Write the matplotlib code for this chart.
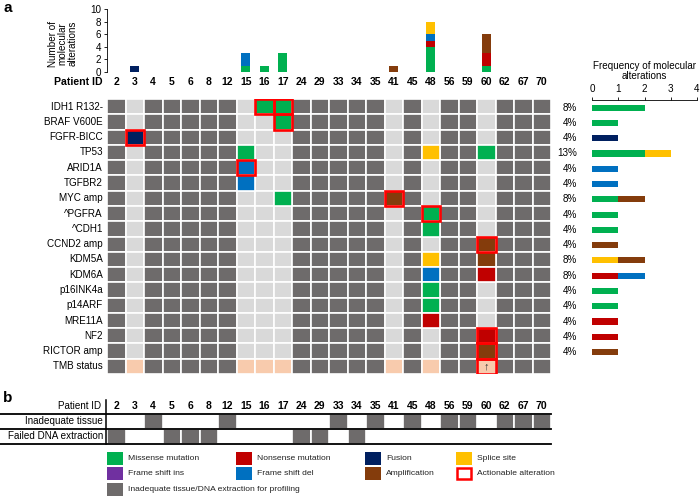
import matplotlib
matplotlib.use("Agg")
import matplotlib.pyplot as plt
from matplotlib.patches import Rectangle

plt.rcParams['font.family'] = ['Liberation Sans', 'DejaVu Sans']

# ---- data ----
patients = ['2', '3', '4', '5', '6', '8', '12', '15', '16', '17', '24', '29',
            '33', '34', '35', '41', '45', '48', '56', '59', '60', '62', '67', '70']
profiled = ['3', '15', '16', '17', '41', '48', '60']
genes = ['IDH1 R132-', 'BRAF V600E', 'FGFR-BICC', 'TP53', 'ARID1A', 'TGFBR2',
         'MYC amp', '^PGFRA', '^CDH1', 'CCND2 amp', 'KDM5A', 'KDM6A',
         'p16INK4a', 'p14ARF', 'MRE11A', 'NF2', 'RICTOR amp', 'TMB status']
freq_labels = ['8%', '4%', '4%', '13%', '4%', '4%', '8%', '4%', '4%', '4%',
               '8%', '8%', '4%', '4%', '4%', '4%', '4%', '']

# (gene, patient, alteration type, actionable)
alterations = [
    ('IDH1 R132-', '16', 'missense', True),
    ('IDH1 R132-', '17', 'missense', True),
    ('BRAF V600E', '17', 'missense', True),
    ('FGFR-BICC', '3', 'fusion', True),
    ('TP53', '15', 'missense', False),
    ('TP53', '48', 'splice', False),
    ('TP53', '60', 'missense', False),
    ('ARID1A', '15', 'fs_del', True),
    ('TGFBR2', '15', 'fs_del', False),
    ('MYC amp', '17', 'missense', False),
    ('MYC amp', '41', 'amp', True),
    ('^PGFRA', '48', 'missense', True),
    ('^CDH1', '48', 'missense', False),
    ('CCND2 amp', '60', 'amp', True),
    ('KDM5A', '48', 'splice', False),
    ('KDM5A', '60', 'amp', False),
    ('KDM6A', '48', 'fs_del', False),
    ('KDM6A', '60', 'nonsense', False),
    ('p16INK4a', '48', 'missense', False),
    ('p14ARF', '48', 'missense', False),
    ('MRE11A', '48', 'nonsense', False),
    ('NF2', '60', 'nonsense', True),
    ('RICTOR amp', '60', 'amp', True),
]
tmb_high = ['60']
inadequate_tissue = ['4', '12', '33', '35', '45', '56', '59', '62', '67', '70']
failed_dna = ['2', '5', '6', '8', '24', '29', '34']

alt_order = ['missense', 'nonsense', 'fs_ins', 'fs_del', 'fusion', 'splice', 'amp']
alt_colors = {'missense': '#00b050', 'nonsense': '#c00000', 'fs_ins': '#7030a0',
              'fs_del': '#0070c0', 'fusion': '#002060', 'splice': '#ffc000',
              'amp': '#843c0c'}
DARK = '#6e6b6b'
LIGHT = '#d9d9d9'
PEACH = '#f8cbad'
ACT = '#ff0000'

legend_items = [
    ('Missense mutation', alt_colors['missense']),
    ('Frame shift ins', alt_colors['fs_ins']),
    ('Inadequate tissue/DNA extraction for profiling', DARK),
    ('Nonsense mutation', alt_colors['nonsense']),
    ('Frame shift del', alt_colors['fs_del']),
    ('Fusion', alt_colors['fusion']),
    ('Amplification', alt_colors['amp']),
    ('Splice site', alt_colors['splice']),
    ('Actionable alteration', None),
]

# ---- layout ----
W, H = 700, 497
fig = plt.figure(figsize=(W / 100, H / 100), dpi=100)


def px_axes(x0, y0, x1, y1):
    return fig.add_axes([x0 / W, 1 - y1 / H, (x1 - x0) / W, (y1 - y0) / H])


n = len(patients)
col = {p: j for j, p in enumerate(patients)}
row = {g: i for i, g in enumerate(genes)}
FS = 7.1
LAB_X = -0.72   # right edge of the row labels, in column units

# main oncoprint grid
ax = px_axes(107, 99, 551, 374)
ax.set_xlim(-0.5, n - 0.5)
ax.set_ylim(len(genes) - 0.5, -0.5)
ax.axis('off')
for i, g in enumerate(genes):
    for j, p in enumerate(patients):
        if p in profiled:
            fc = PEACH if g == 'TMB status' else LIGHT
        else:
            fc = DARK
        ax.add_patch(Rectangle((j - 0.5, i - 0.5), 1, 1, fc=fc, ec='white', lw=1.2))
    ax.text(LAB_X, i, g, ha='right', va='center', fontsize=FS, clip_on=False)
for g, p, t, act in alterations:
    i, j = row[g], col[p]
    ax.add_patch(Rectangle((j - 0.5, i - 0.5), 1, 1, fc=alt_colors[t], ec='white', lw=1.2))
for g, p, t, act in alterations:
    if act:
        ax.add_patch(Rectangle((col[p] - 0.5, row[g] - 0.5), 1, 1,
                               fill=False, ec=ACT, lw=1.9, zorder=5))
itmb = row['TMB status']
for p in tmb_high:
    ax.text(col[p], itmb, '\u2191', ha='center', va='center', fontsize=8, color='#333333')
    ax.add_patch(Rectangle((col[p] - 0.5, itmb - 0.5), 1, 1, fill=False, ec=ACT, lw=1.9, zorder=5))
for j, p in enumerate(patients):
    ax.text(j, -1.6, p, ha='center', va='center', fontsize=7.5, fontweight='bold', clip_on=False)
ax.text(LAB_X, -1.6, 'Patient ID', ha='right', va='center', fontsize=7.6,
        fontweight='bold', clip_on=False)

# number of alterations per patient
axt = px_axes(107, 9, 551, 72)
axt.set_xlim(-0.5, n - 0.5)
axt.set_ylim(0, 10)
for s in ['top', 'right', 'bottom']:
    axt.spines[s].set_visible(False)
axt.spines['left'].set_linewidth(0.6)
axt.set_xticks([])
axt.set_yticks(range(0, 11, 2))
axt.tick_params(axis='y', labelsize=FS, length=2.5, width=0.6, pad=1.5)
bottom = [0] * n
for t in alt_order:
    h = [0] * n
    for g, p, tt, act in alterations:
        if tt == t:
            h[col[p]] += 1
    axt.bar(range(n), h, width=0.5, bottom=bottom, color=alt_colors[t], linewidth=0)
    bottom = [b + v for b, v in zip(bottom, h)]
axt.text(-0.1, 0.45, 'Number of\nmolecular\nalterations', transform=axt.transAxes,
         rotation=90, ha='center', va='center', fontsize=FS, linespacing=0.95)

# frequency of alterations per gene
axf = px_axes(592, 100, 697, 375)
axf.set_xlim(0, 4)
axf.set_ylim(len(genes) - 0.5, -0.5)
for s in ['bottom', 'right', 'left']:
    axf.spines[s].set_visible(False)
axf.spines['top'].set_linewidth(0.6)
axf.xaxis.tick_top()
axf.set_xticks(range(5))
axf.set_yticks([])
axf.tick_params(axis='x', labelsize=FS, length=2.5, width=0.6, pad=2)
left = [0] * len(genes)
for t in alt_order:
    w = [0] * len(genes)
    for g, p, tt, act in alterations:
        if tt == t:
            w[row[g]] += 1
    axf.barh(range(len(genes)), w, height=0.4, left=left, color=alt_colors[t], linewidth=0)
    left = [a + b for a, b in zip(left, w)]
for i, lab in enumerate(freq_labels):
    axf.text(-0.57, i, lab, ha='right', va='center', fontsize=FS, clip_on=False)
axf.text(2, -2.4, 'Frequency of molecular\nalterations', ha='center', va='center',
         fontsize=FS, linespacing=1.1, clip_on=False)

# part b: reasons for no profiling
axb = px_axes(107, 398.5, 551, 443.5)
axb.set_xlim(-0.5, n - 0.5)
axb.set_ylim(2.5, -0.5)
axb.axis('off')
for r, lst in enumerate([inadequate_tissue, failed_dna], start=1):
    for p in lst:
        axb.add_patch(Rectangle((col[p] - 0.5, r - 0.5), 1, 1, fc=DARK, ec='white', lw=1.2))
for j, p in enumerate(patients):
    axb.text(j, 0, p, ha='center', va='center', fontsize=7.5, fontweight='bold')
axb.text(-0.82, 0, 'Patient ID', ha='right', va='center', fontsize=FS, clip_on=False)
axb.text(LAB_X, 1, 'Inadequate tissue', ha='right', va='center', fontsize=FS, clip_on=False)
axb.text(LAB_X, 2, 'Failed DNA extraction', ha='right', va='center', fontsize=FS, clip_on=False)
for yl in [0.5, 1.5, 2.5]:
    axb.axhline(yl, xmin=-107 / 444, xmax=1, color='black', lw=1.3, clip_on=False)
axb.axvline(-0.55, ymin=0, ymax=0.97, color='black', lw=1.1, clip_on=False)

# legend
axl = px_axes(100, 448, 700, 497)
axl.set_xlim(100, 700)
axl.set_ylim(497, 448)
axl.axis('off')
col_x = [107, 236, 365, 456]
row_y = [452, 467.5, 483]
slots = [(0, 0), (0, 1), (0, 2), (1, 0), (1, 1), (2, 0), (2, 1), (3, 0), (3, 1)]
for (c, r), (lab, color) in zip(slots, legend_items):
    x0, y0 = col_x[c], row_y[r]
    if color is None:
        axl.add_patch(Rectangle((x0 + 1, y0 + 1), 14, 11, fill=False, ec=ACT, lw=1.8))
    else:
        axl.add_patch(Rectangle((x0, y0), 16, 13, fc=color, ec='none'))
    axl.text(x0 + 21, y0 + 6.5, lab, ha='left', va='center', fontsize=6.1, color='#222222')

fig.text(3 / W, 1 - 8 / H, 'a', fontsize=11, fontweight='bold', va='center', ha='left')
fig.text(3 / W, 1 - 398 / H, 'b', fontsize=11, fontweight='bold', va='center', ha='left')

fig.savefig('out.png', dpi=100)
